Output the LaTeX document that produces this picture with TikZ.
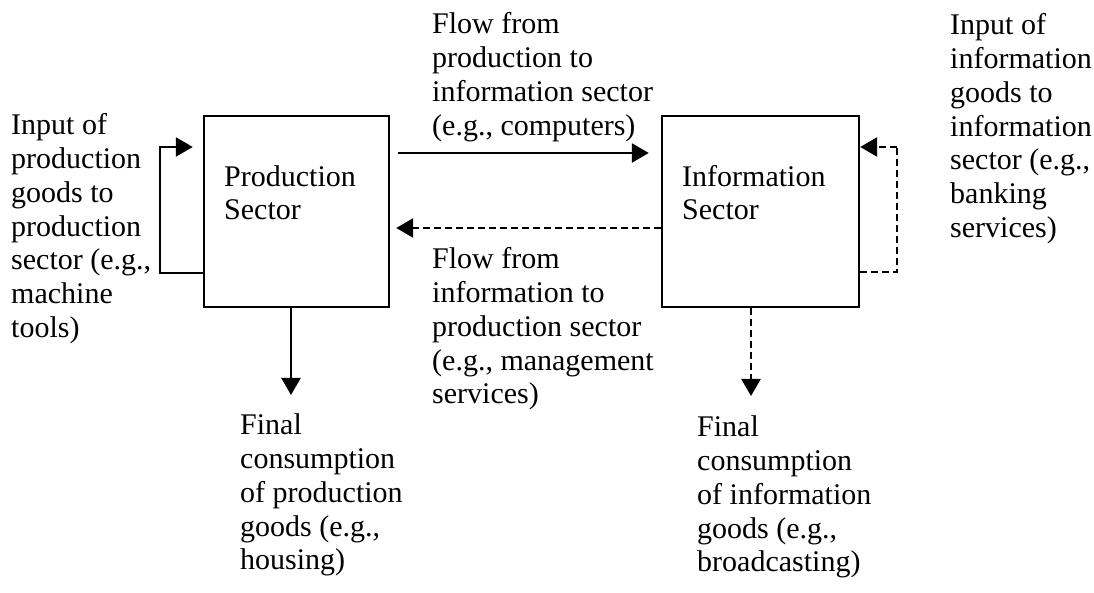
\documentclass[tikz,border=0pt]{standalone}
\usepackage{fontspec}
\setmainfont{Liberation Serif}
\usetikzlibrary{arrows.meta}
\begin{document}
\begin{tikzpicture}[x=1pt,y=1pt,
  lbl/.style={anchor=base west, align=left, inner sep=0pt, font=\fontsize{30}{33.7}\selectfont},
  box/.style={draw, line width=2.4pt, inner sep=0pt},
  arr/.style={line width=2.4pt, -{Triangle[length=17pt,width=19pt]}},
  darr/.style={arr, dash pattern=on 7pt off 4pt},
  dline/.style={line width=2.4pt, dash pattern=on 7pt off 4pt}]
\useasboundingbox (0,0) rectangle (1094,593);
% boxes
\node[box, minimum width=185pt, minimum height=191pt] (P) at (296.5,381.5) {};
\node[box, minimum width=197pt, minimum height=191pt] (I) at (760.5,381.5) {};
% (multi-line nodes: base anchor = baseline of the last line)
\node[lbl] (Pt) at (224,373) {Production\\Sector};
\node[lbl] (It) at (682,373) {Information\\Sector};
% labels
\node[lbl] (tl) at (11,255.8) {Input of\\production\\goods to\\production\\sector (e.g.,\\machine\\tools)};
\node[lbl] (tt) at (432,457.9) {Flow from\\production to\\information sector\\(e.g., computers)};
\node[lbl] (tr) at (950,355.8) {Input of\\information\\goods to\\information\\sector (e.g.,\\banking\\services)};
\node[lbl] (tm) at (432,189.2) {Flow from\\information to\\production sector\\(e.g., management\\services)};
\node[lbl] (bl) at (240,23.2) {Final\\consumption\\of production\\goods (e.g.,\\housing)};
\node[lbl] (br) at (697,21.2) {Final\\consumption\\of information\\goods (e.g.,\\broadcasting)};
% coordinates
\coordinate (lc) at (160,446);
\coordinate (rc) at (897,446);
\coordinate (pd) at (291,198);
\coordinate (id) at (751,197);
% connectors
\draw[arr, shorten <=8pt, shorten >=12pt] (P.east |- 0,440) -- (I.west |- 0,440);
\draw[darr, shorten >=6pt] (I.west |- 0,365) -- (P.east |- 0,365);
\draw[arr, shorten >=10pt] (P.west |- 0,320) -| (lc) -- (P.west |- lc);
\draw[dline] (I.east |- 0,321) -| (rc);
\draw[darr] (rc) -- (I.east |- rc);
\draw[arr] (P.south -| pd) -- (pd);
\draw[darr] (I.south -| id) -- (id);
\end{tikzpicture}
\end{document}
